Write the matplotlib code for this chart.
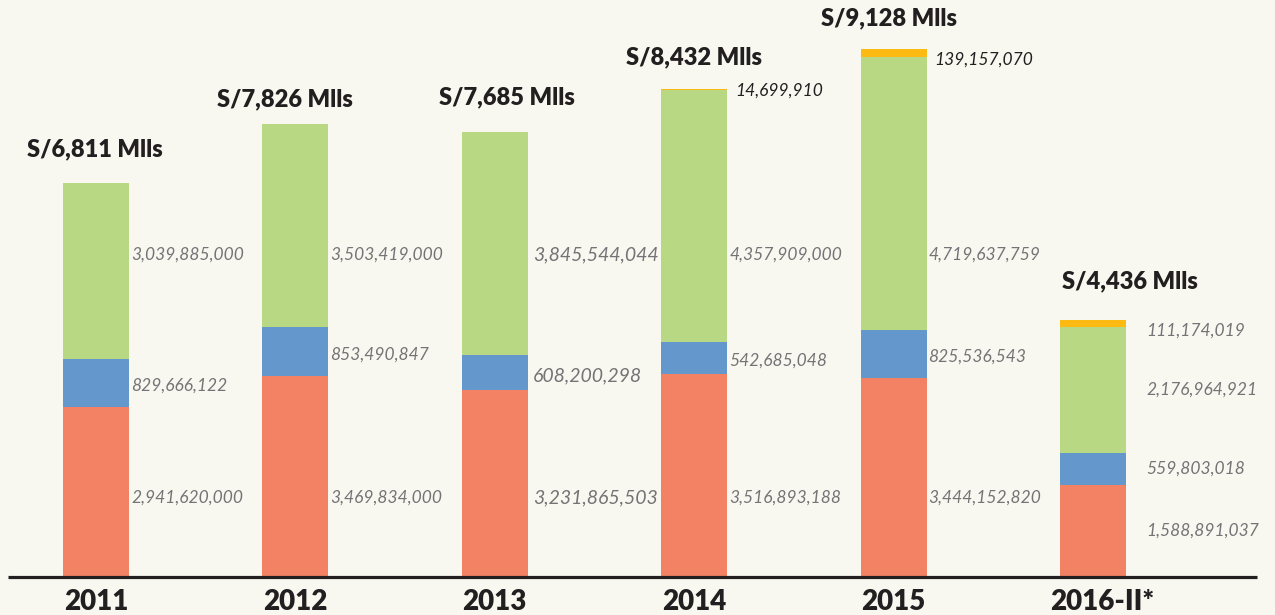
import matplotlib
matplotlib.use("Agg")
import matplotlib.pyplot as plt
import matplotlib.transforms as mtransforms
import numpy as np

years = ["2011", "2012", "2013", "2014", "2015", "2016-II*"]
totals = ["S/6,811 Mlls", "S/7,826 Mlls", "S/7,685 Mlls", "S/8,432 Mlls", "S/9,128 Mlls", "S/4,436 Mlls"]
red_vals = [2941620000, 3469834000, 3231865503, 3516893188, 3444152820, 1588891037]
blue_vals = [829666122, 853490847, 608200298, 542685048, 825536543, 559803018]
green_vals = [3039885000, 3503419000, 3845544044, 4357909000, 4719637759, 2176964921]
yellow_vals = [0, 0, 0, 14699910, 139157070, 111174019]

BG = "#F9F8F0"
C_RED = "#F28263"
C_BLUE = "#6497CB"
C_GREEN = "#B8D884"
C_YEL = "#FDBA12"
C_TXT = "#231F20"
C_GRAY = "#747477"

plt.rcParams['font.family'] = ['Lato', 'DejaVu Sans']

fig = plt.figure(figsize=(12.75, 6.15), dpi=100, facecolor=BG)
ax = fig.add_axes([0, 38/615, 1, 577/615])
ax.set_facecolor(BG)

spacing = 199.4
x0 = 96 / spacing
ax.set_xlim(-x0, (1275 - 96) / spacing)
ax.set_ylim(0, 577 / 0.05784 * 1e6)
x = np.arange(len(years))
w = 66 / spacing

r = np.array(red_vals, float)
b = np.array(blue_vals, float)
g = np.array(green_vals, float)
yv = np.array(yellow_vals, float)

ax.bar(x, r, w, color=C_RED, linewidth=0)
ax.bar(x, b, w, bottom=r, color=C_BLUE, linewidth=0)
ax.bar(x, g, w, bottom=r + b, color=C_GREEN, linewidth=0)
ax.bar(x, yv, w, bottom=r + b + g, color=C_YEL, linewidth=0)

for s in ax.spines.values():
    s.set_visible(False)
ax.set_xticks([])
ax.set_yticks([])

# axis line
ax.plot([-0.44, 5.82], [0, 0], color=C_TXT, lw=2.3, clip_on=False, solid_capstyle='butt')

def fmt(v):
    return f"{int(v):,}"

blend = mtransforms.blended_transform_factory(ax.transData, ax.transAxes)
GREEN_ROW = (577 - 255) / 577
RED_ROW = (577 - 498) / 577

label_dx = [2, 2, 5, 2, 2, 20]  # pixels from bar edge
fs_val = [12.5, 12.5, 14.0, 12.5, 12.5, 12.5]
for i in range(len(years)):
    xr = x[i] + w / 2
    kw = dict(textcoords='offset points', ha='left', va='center',
              fontsize=fs_val[i], style='italic')
    off = (label_dx[i] * 0.72, 0)
    if i < 5:
        ax.annotate(fmt(red_vals[i]), (xr, RED_ROW), xycoords=blend, xytext=off, color=C_GRAY, **kw)
        ax.annotate(fmt(green_vals[i]), (xr, GREEN_ROW), xycoords=blend, xytext=off, color=C_GRAY, **kw)
        ax.annotate(fmt(blue_vals[i]), (xr, r[i] + b[i] / 2), xytext=(off[0], -3 * 0.72), color=C_GRAY, **kw)
    else:
        ax.annotate(fmt(red_vals[i]), (xr, r[i] / 2), xytext=off, color=C_GRAY, **kw)
        ax.annotate(fmt(blue_vals[i]), (xr, r[i] + b[i] / 2), xytext=off, color=C_GRAY, **kw)
        ax.annotate(fmt(green_vals[i]), (xr, r[i] + b[i] + g[i] / 2), xytext=off, color=C_GRAY, **kw)
    if yellow_vals[i] > 0:
        col = C_GRAY if i == 5 else C_TXT
        dx = label_dx[i] if i == 5 else label_dx[i] + 6
        dy = {3: -1, 4: -7, 5: -7}[i]
        ax.annotate(fmt(yellow_vals[i]), (xr, r[i] + b[i] + g[i] + yv[i] / 2),
                    xytext=(dx * 0.72, dy * 0.72), color=col, **kw)

# totals
tot_dx = [-1, -10, 12, 0, -5, 37]
tot_dy = [34, 25, 35, 32, 31, 39]
for i in range(len(years)):
    top = r[i] + b[i] + g[i] + yv[i]
    ax.annotate(totals[i], (x[i], top), xytext=(tot_dx[i] * 0.72, tot_dy[i] * 0.72),
                textcoords='offset points', ha='center', va='center',
                fontsize=17, fontweight='heavy', color=C_TXT)

# year labels
year_dx = [0, 0, 0, 0, 0, 9]
for i in range(len(years)):
    ax.annotate(years[i], (x[i], 0), xytext=(year_dx[i] * 0.72, -25 * 0.72), textcoords='offset points',
                ha='center', va='center', fontsize=20, fontweight='heavy', color=C_TXT,
                annotation_clip=False)

fig.savefig("out.png", dpi=100, facecolor=BG)
